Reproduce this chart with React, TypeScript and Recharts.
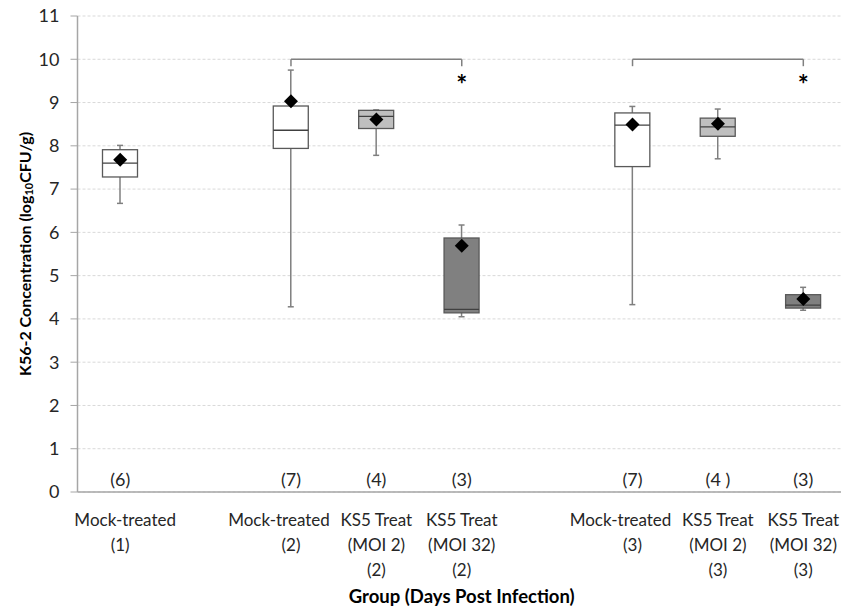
import React from 'react';
import {
  ComposedChart, Bar, Line, XAxis, YAxis, CartesianGrid, ReferenceLine, ReferenceDot, Label,
} from 'recharts';

// one entry per slot on the x axis, blanks are the gaps between infection days
const CATEGORY_KEYS = ['m1', 'gap1', 'm2', 'a2', 'b2', 'gap2', 'm3', 'a3', 'b3'];
const CATEGORY_LABELS = [
  ['Mock-treated', '(1)'],
  [],
  ['Mock-treated', '(2)'],
  ['KS5 Treat', '(MOI 2)', '(2)'],
  ['KS5 Treat', '(MOI 32)', '(2)'],
  [],
  ['Mock-treated', '(3)'],
  ['KS5 Treat', '(MOI 2)', '(3)'],
  ['KS5 Treat', '(MOI 32)', '(3)'],
];
const SAMPLE_COUNTS = ['(6)', '', '(7)', '(4)', '(3)', '', '(7)', '(4 )', '(3)'];
const TREATMENT = ['mock', null, 'mock', 'moi2', 'moi32', null, 'mock', 'moi2', 'moi32'];

const WHISKER_LOW = [6.67, null, 4.28, 7.78, 4.05, null, 4.33, 7.7, 4.2];
const Q1 = [7.28, null, 7.94, 8.4, 4.14, null, 7.52, 8.22, 4.25];
const MEDIAN = [7.6, null, 8.36, 8.68, 4.22, null, 8.48, 8.44, 4.32];
const Q3 = [7.91, null, 8.92, 8.82, 5.87, null, 8.76, 8.64, 4.56];
const WHISKER_HIGH = [8.01, null, 9.75, 8.83, 6.17, null, 8.91, 8.85, 4.73];
const MEAN = [7.68, null, 9.03, 8.61, 5.69, null, 8.49, 8.51, 4.46];

const Y_TICKS = [0, 1, 2, 3, 4, 5, 6, 7, 8, 9, 10, 11];

// significance brackets
const BRACKETS = [
  { from: 'm2', to: 'b2' },
  { from: 'm3', to: 'b3' },
];
const BRACKET_LEVEL = 10;
const BRACKET_DROP = 9.84;
const STAR_LEVEL = 9.45;

const FILLS: Record<string, string> = { mock: '#ffffff', moi2: '#bfbfbf', moi32: '#808080' };
// the first label line isn't centred exactly in the original (excel wrapping)
const FIRST_LINE_DX = [5, 0, -12, 0, 0, 0, -12, 0, 0];

const data = CATEGORY_KEYS.map((key, i) => ({
  key,
  range: WHISKER_LOW[i] != null ? [WHISKER_LOW[i], WHISKER_HIGH[i]] : null,
  low: WHISKER_LOW[i],
  q1: Q1[i],
  median: MEDIAN[i],
  q3: Q3[i],
  high: WHISKER_HIGH[i],
  mean: MEAN[i],
  treatment: TREATMENT[i],
}));

const BoxShape = (props: any) => {
  const { x, y, width, height, payload } = props;
  if (!payload || payload.low == null || height == null) return null;
  const top = Math.min(y, y + height);
  const h = Math.abs(height);
  const perUnit = h / (payload.high - payload.low);
  const toY = (v: number) => top + (payload.high - v) * perUnit;
  const cx = x + width / 2;
  const boxTop = toY(payload.q3);
  const boxBottom = toY(payload.q1);
  const med = toY(payload.median);
  return (
    <g>
      <line x1={cx} x2={cx} y1={top} y2={top + h} stroke="#7f7f7f" strokeWidth={1.5} />
      <line x1={cx - 3} x2={cx + 3} y1={top} y2={top} stroke="#7f7f7f" strokeWidth={1.5} />
      <line x1={cx - 3} x2={cx + 3} y1={top + h} y2={top + h} stroke="#7f7f7f" strokeWidth={1.5} />
      <rect x={x} y={boxTop} width={width} height={boxBottom - boxTop}
        fill={FILLS[payload.treatment]} stroke="#595959" strokeWidth={1.3} />
      <line x1={x} x2={x + width} y1={med} y2={med} stroke="#404040" strokeWidth={1.3} />
    </g>
  );
};

const Diamond = (props: any) => {
  const { cx, cy } = props;
  if (cy == null || isNaN(cy)) return <g />;
  const r = 7;
  return <path d={`M${cx},${cy - r}L${cx + r},${cy}L${cx},${cy + r}L${cx - r},${cy}Z`} fill="#000" />;
};

const GroupTick = (props: any) => {
  const { x, payload } = props;
  const i = CATEGORY_KEYS.indexOf(payload.value);
  const lines = CATEGORY_LABELS[i] || [];
  return (
    <g>
      <text x={x} y={486} textAnchor="middle" fontSize={18} fill="#262626">{SAMPLE_COUNTS[i]}</text>
      {lines.map((t, j) => (
        <text key={j} x={x + (j === 0 ? FIRST_LINE_DX[i] : 0)} y={526 + j * 25} textAnchor="middle"
          fontSize={17} fill="#262626">{t}</text>
      ))}
    </g>
  );
};

const YTitle = (props: any) => {
  const { viewBox } = props;
  const cx = 24;
  const cy = viewBox.y + viewBox.height / 2;
  return (
    <text x={cx} y={cy} transform={`rotate(-90, ${cx}, ${cy})`} textAnchor="middle"
      dominantBaseline="central" fontSize={16} fontWeight="bold" fill="#000">
      K56-2 Concentration  (log<tspan fontSize={11} dy={4}>10</tspan><tspan dy={-4}>CFU/g)</tspan>
    </text>
  );
};

const XTitle = (props: any) => {
  const { viewBox } = props;
  return (
    <text x={viewBox.x + viewBox.width / 2} y={603} textAnchor="middle" fontSize={18.5}
      fontWeight="bold" fill="#000">
      Group (Days Post Infection)
    </text>
  );
};

export default function App() {
  return (
    <div style={{ position: 'absolute', left: 0, top: 0, width: 841, height: 610, overflow: 'hidden',
      background: '#fff', fontFamily: 'Lato, sans-serif' }}>
      <ComposedChart width={846} height={610} data={data}
        margin={{ top: 16, right: 0, bottom: 28, left: 0 }}>
        <CartesianGrid vertical={false} stroke="#d9d9d9" strokeDasharray="3 2" />
        <XAxis dataKey="key" interval={0} tick={<GroupTick />} tickLine={false} height={90}
          axisLine={{ stroke: '#a6a6a6', strokeWidth: 1.5 }}>
          <Label content={<XTitle />} />
        </XAxis>
        <YAxis domain={[0, 11]} ticks={Y_TICKS} width={77.5} tickSize={7} tickMargin={11}
          interval={0} axisLine={{ stroke: '#a6a6a6', strokeWidth: 1.5 }}
          tickLine={{ stroke: '#a6a6a6' }} tick={{ fontSize: 18, fill: '#262626' }}>
          <Label content={<YTitle />} />
        </YAxis>
        <Bar dataKey="range" barSize={35} shape={<BoxShape />} isAnimationActive={false} />
        <Line dataKey="mean" stroke="none" dot={<Diamond />} activeDot={false}
          isAnimationActive={false} />
        {BRACKETS.map((b) => (
          <ReferenceLine key={b.from + 'h'} segment={[{ x: b.from, y: BRACKET_LEVEL }, { x: b.to, y: BRACKET_LEVEL }]}
            stroke="#808080" strokeWidth={1.5} />
        ))}
        {BRACKETS.flatMap((b) => [b.from, b.to]).map((k) => (
          <ReferenceLine key={k + 'v'} segment={[{ x: k, y: BRACKET_LEVEL }, { x: k, y: BRACKET_DROP }]}
            stroke="#808080" strokeWidth={1.5} />
        ))}
        {BRACKETS.map((b) => (
          <ReferenceDot key={b.to + 's'} x={b.to} y={STAR_LEVEL} r={0}
            shape={(p: any) => (
              <text x={p.cx} y={p.cy + 11} textAnchor="middle" fontSize={26} fontWeight="bold" fill="#000">*</text>
            )} />
        ))}
      </ComposedChart>
    </div>
  );
}
